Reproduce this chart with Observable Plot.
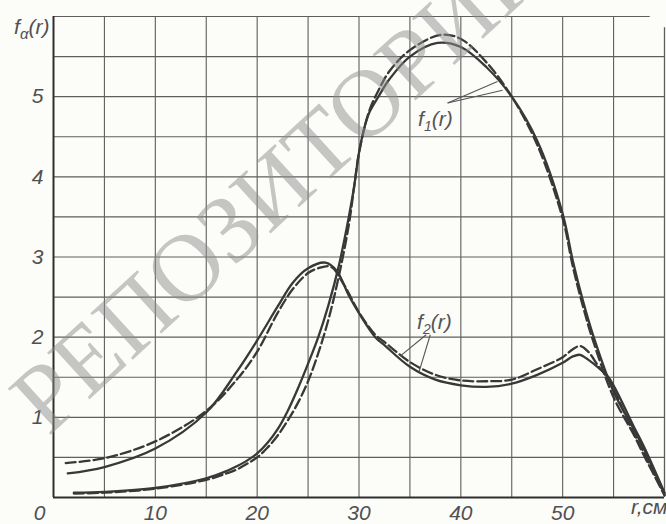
<!DOCTYPE html>
<html><head><meta charset="utf-8">
<script src="https://cdn.jsdelivr.net/npm/d3@7"></script>
<script src="https://cdn.jsdelivr.net/npm/@observablehq/plot@0.6"></script>
<style>
html,body{margin:0;padding:0;background:#fcfcf8;}
#chart{width:666px;height:524px;overflow:hidden;}
</style></head><body><div id="chart"></div>
<script>
// ---- data ----
const f1SolidR = [2,5,10,15,17,18,19,20,21,22,23,24,25,26,27,28,29,29.5,30,30.5,31,32,33,35,37.7,40,42.5,45,47.5,50,51,52,53,55,57,58,60];
const f1SolidF = [0.06,0.07,0.12,0.24,0.33,0.39,0.46,0.55,0.68,0.85,1.08,1.36,1.67,2.0,2.4,2.88,3.5,3.86,4.3,4.6,4.8,5.02,5.22,5.5,5.67,5.62,5.37,5.0,4.45,3.54,2.95,2.45,2.02,1.32,0.85,0.6,0.05];
const f1DashR  = [2,5,10,15,17,18,19,20,21,22,23,24,25,26,27,28,29,29.6,30,31,32,33,35,38,40,42.5,45,47.5,50,51,52,53,55,57,58,60];
const f1DashF  = [0.05,0.06,0.11,0.22,0.3,0.35,0.42,0.5,0.62,0.77,0.96,1.18,1.45,1.8,2.22,2.75,3.4,3.95,4.3,4.82,5.1,5.32,5.58,5.77,5.72,5.43,5.0,4.4,3.48,2.88,2.38,1.95,1.25,0.78,0.52,0.03];
const f2SolidR = [1.4,5,10,15,18,20,22,23.5,25,26.7,27.8,29,30,31.6,32.5,35,37.5,40,42.5,45,47.5,50,51,51.7,52.5,53.5,54.5,57,58,60];
const f2SolidF = [0.30,0.38,0.61,1.06,1.57,1.96,2.38,2.68,2.86,2.93,2.83,2.52,2.3,2.0,1.9,1.63,1.47,1.40,1.38,1.42,1.53,1.68,1.76,1.78,1.72,1.62,1.50,0.88,0.63,0.06];
const f2DashR  = [1.2,5,10,15,18,20,22,23.5,25,26,27.2,28.5,30,31.6,32.5,35,37.5,40,42.5,45,47.5,50,51,51.7,52.5,53.5,54.5,57,58,60];
const f2DashF  = [0.43,0.49,0.70,1.08,1.47,1.82,2.3,2.6,2.8,2.86,2.88,2.66,2.31,2.03,1.94,1.69,1.53,1.46,1.45,1.47,1.60,1.75,1.85,1.89,1.82,1.64,1.47,0.80,0.55,0.03];

const xGrid = [0,5,10,15,20,25,30,35,40,45,50,55,60];
const yGrid = [0,0.5,1,1.5,2,2.5,3,3.5,4,4.5,5,5.5,6];
const xTickValues = [10,20,30,40,50];
const xTickLabels = ["10","20","30","40","50"];
const yTickValues = [1,2,3,4,5];
const yTickLabels = ["1","2","3","4","5"];

const curveLabels = [
  {text:"f₁(r)", r:37.5, f:4.72},
  {text:"f₂(r)", r:37.4, f:2.19}
];
const leaders = [
  {r1:38.7, f1:4.92, r2:43.6, f2:5.19},
  {r1:38.7, f1:4.92, r2:44.1, f2:5.08},
  {r1:36.6, f1:2.03, r2:34.1, f2:1.77},
  {r1:37.0, f1:2.03, r2:35.9, f2:1.57}
];
const yTitle = "fα(r)";
const xTitle = "r,см";
const originLabel = "0";
const watermarkText = "РЕПОЗИТОРИЙ";

const toPts = (rs, fs) => rs.map((r, i) => ({r, f: fs[i]}));
const f1s = toPts(f1SolidR, f1SolidF);
const f1d = toPts(f1DashR, f1DashF);
const f2s = toPts(f2SolidR, f2SolidF);
const f2d = toPts(f2DashR, f2DashF);

const ink = "#383838";
const gridC = "#5e5e5e";
const txtC = "#505050";
const tickFont = {fontFamily:"'Liberation Sans Narrow', 'Liberation Sans', sans-serif", fontStyle:"italic", fontSize:21, fill:txtC};

const chart = Plot.plot({
  width: 666, height: 524,
  marginLeft: 53, marginRight: 2, marginTop: 16, marginBottom: 27,
  x: {domain: [0, 60], axis: null},
  y: {domain: [0, 6], axis: null},
  style: {background: "transparent", fontFamily: "Liberation Sans"},
  marks: [
    Plot.ruleX(xGrid.filter(v => v > 0 && v < 60), {stroke: gridC, strokeWidth: 1.1}),
    Plot.ruleX([60], {y1: 0, y2: 5.86, stroke: gridC, strokeWidth: 1.3}),
    Plot.ruleY(yGrid.filter(v => v > 0 && v < 6), {stroke: gridC, strokeWidth: 1.1}),
    Plot.ruleY([6], {x1: 0, x2: 58.6, stroke: gridC, strokeWidth: 1.2}),
    Plot.ruleX([0], {stroke: "#2e2e2e", strokeWidth: 2}),
    Plot.ruleY([0], {stroke: "#2e2e2e", strokeWidth: 2}),

    Plot.line(f1s, {x: "r", y: "f", curve: "catmull-rom", stroke: ink, strokeWidth: 2.3}),
    Plot.line(f1d, {x: "r", y: "f", curve: "catmull-rom", stroke: ink, strokeWidth: 2.3, strokeDasharray: "10,4"}),
    Plot.line(f2s, {x: "r", y: "f", curve: "catmull-rom", stroke: ink, strokeWidth: 2.3}),
    Plot.line(f2d, {x: "r", y: "f", curve: "catmull-rom", stroke: ink, strokeWidth: 2.3, strokeDasharray: "10,4"}),

    Plot.link(leaders, {x1: "r1", y1: "f1", x2: "r2", y2: "f2", stroke: "#555", strokeWidth: 1.1}),
    Plot.text(curveLabels, {x: "r", y: "f", text: "text", ...tickFont, fontSize: 21, fill: "#555"}),

    Plot.text(xTickValues, {x: d => d, y: 0, text: (d, i) => xTickLabels[i], dy: 16, ...tickFont}),
    Plot.text(yTickValues, {x: 0, y: d => d, text: (d, i) => yTickLabels[i], dx: -10, textAnchor: "end", ...tickFont}),
    Plot.text([originLabel], {x: 0, y: 0, text: d => d, dx: -14, dy: 16, ...tickFont}),
    Plot.text([yTitle], {frameAnchor: "top-left", text: d => d, dx: -4, dy: 3, textAnchor: "end", ...tickFont}),
    Plot.text([xTitle], {frameAnchor: "bottom-right", text: d => d, dx: 3, dy: 16, textAnchor: "end", ...tickFont}),

    Plot.text([watermarkText], {x: () => 22.3, y: () => 3.93, text: d => d, rotate: -42.5,
      fontFamily: "Liberation Serif", fontSize: 96, fill: "#8e8e8e", fillOpacity: 0.5})
  ]
});

// subscripts
chart.querySelectorAll("text").forEach(t => {
  const s = t.textContent;
  if (s === "fα(r)") t.innerHTML = 'f<tspan dy="5" font-size="15">α</tspan><tspan dy="-5">(r)</tspan>';
  else if (s === "f₁(r)") t.innerHTML = 'f<tspan dy="5" font-size="14">1</tspan><tspan dy="-5">(r)</tspan>';
  else if (s === "f₂(r)") t.innerHTML = 'f<tspan dy="5" font-size="14">2</tspan><tspan dy="-5">(r)</tspan>';
});
document.getElementById("chart").appendChild(chart);
</script></body></html>
